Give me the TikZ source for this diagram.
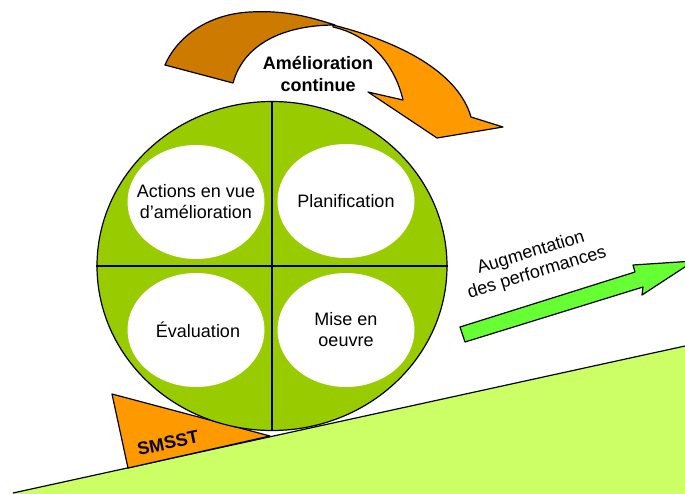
\documentclass[tikz,border=0pt]{standalone}
\usepackage{fontspec}
\setmainfont{Liberation Sans}
\usetikzlibrary{shapes.geometric}
\definecolor{brownor}{RGB}{204,122,0}
\definecolor{orng}{RGB}{255,153,0}
\definecolor{wheelgreen}{RGB}{153,204,0}
\definecolor{groundcol}{RGB}{204,255,102}
\definecolor{arrowgreen}{RGB}{102,255,51}
\begin{document}
\begin{tikzpicture}[x=1pt,y=-1pt,line join=round,
  outl/.style={draw=black,line width=1.2pt},
  wsp/.style={ellipse,fill=white,minimum width=137pt,minimum height=114pt,inner sep=0pt},
  lbl/.style={font=\fontsize{18}{21}\selectfont,align=center,inner sep=0pt},
  blbl/.style={font=\fontsize{18}{22}\selectfont\bfseries,align=center,inner sep=0pt}]
\useasboundingbox (0,0) rectangle (685,493);
\clip (0,0) rectangle (685,493);
% ground
\fill[groundcol] (13,493) -- (685,346) -- (690,500) -- (10,500) -- cycle;
\draw[line width=1.2pt] (13,493) -- (685,346);
% green arrow
\draw[outl,fill=arrowgreen] (460,327) -- (635,272) -- (633,265) -- (694,261)
  -- (642,295) -- (643,287) -- (465,342) -- cycle;
\node[lbl,rotate=17] (perf) at (534,263) {Augmentation\\des performances};
% curved arrow: back (brown) part
\draw[outl,fill=brownor] (165,65) .. controls (178,35) and (210,14) .. (250,12)
  .. controls (285,10) and (310,17) .. (335,25)
  .. controls (290,25) and (245,40) .. (233,83) -- cycle;
% curved arrow: front (orange) part
\draw[outl,fill=orng] (333,25) .. controls (400,42) and (458,72) .. (471,117)
  -- (503,127) -- (437,138) -- (368,92) -- (403,100)
  .. controls (395,65) and (370,35) .. (333,27) -- cycle;
\node[blbl] (amc) at (318,74) {Amélioration\\continue};
% SMSST wedge
\draw[outl,fill=orng] (112,394) -- (270,436) -- (128,468) -- cycle;
\node[blbl,rotate=12] (smsst) at (168,443) {SMSST};
% wheel
\node[ellipse,outl,fill=wheelgreen,minimum width=350pt,minimum height=329pt,inner sep=0pt] (wheel) at (272,266) {};
\draw[line width=1.2pt] (wheel.north) -- (wheel.south);
\draw[line width=1.2pt] (wheel.west) -- (wheel.east);
\node[wsp] (act) at (196,202) {};
\node[wsp] (plan) at (346,201) {};
\node[wsp] (eval) at (196,330) {};
\node[wsp] (mise) at (346,330) {};
\node[lbl] at (act) {Actions en vue\\d’amélioration};
\node[lbl] at (plan) {Planification};
\node[lbl] at ([xshift=2pt]eval.center) {Évaluation};
\node[lbl] at (mise) {Mise en\\oeuvre};
\end{tikzpicture}
\end{document}
